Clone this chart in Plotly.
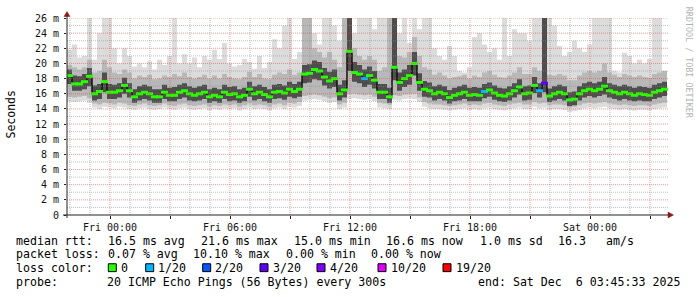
import plotly.graph_objects as go
import pandas as pd

# ---------------- data (15-minute steps) ----------------
start_time = "2025-12-04 21:51:00"
end_time = "2025-12-06 03:57:00"
step_minutes = 15

median = [18.4, 17.3, 17.3, 17.6, 18.3, 16.0, 16.3, 17.6, 16.2, 16.2,
          16.4, 17.1, 16.4, 15.6, 16.0, 16.2, 16.0, 15.6, 15.6, 16.2,
          15.8, 15.8, 16.2, 16.4, 16.0, 15.8, 16.0, 16.2, 15.6, 15.8,
          15.6, 16.2, 15.9, 16.0, 15.6, 15.8, 16.6, 16.0, 16.2, 15.9,
          15.6, 16.2, 16.3, 16.1, 16.6, 16.3, 16.6, 18.6, 18.7, 19.2,
          19.0, 18.2, 17.7, 18.0, 16.0, 16.5, 21.6, 18.8, 18.6, 18.0,
          18.4, 17.8, 16.2, 16.2, 15.6, 19.5, 17.5, 18.0, 18.4, 20.0,
          17.5, 16.6, 16.4, 16.0, 16.2, 16.0, 15.5, 15.8, 16.0, 16.2,
          15.8, 15.9, 15.8, 16.3, 16.5, 16.1, 15.8, 15.7, 16.0, 16.4,
          16.9, 16.0, 16.1, 17.1, 16.4, 17.4, 15.7, 16.0, 16.2, 16.0,
          15.2, 15.3, 16.0, 16.4, 16.6, 16.4, 16.6, 17.0, 16.4, 16.2,
          16.0, 16.2, 16.0, 15.8, 16.0, 15.9, 15.8, 16.2, 16.4, 16.6]

loss = [0, 0, 0, 0, 0, 0, 0, 0, 0, 0,
        0, 0, 0, 0, 0, 0, 0, 0, 0, 0,
        0, 0, 0, 0, 0, 0, 0, 0, 0, 0,
        0, 0, 0, 0, 0, 0, 0, 0, 0, 0,
        0, 0, 0, 0, 0, 0, 0, 0, 0, 0,
        0, 0, 0, 0, 0, 0, 0, 0, 0, 1,
        0, 0, 0, 0, 0, 0, 0, 0, 0, 0,
        0, 0, 0, 0, 0, 0, 0, 0, 0, 0,
        0, 0, 0, 1, 0, 0, 0, 0, 0, 0,
        0, 0, 0, 0, 1, 3, 0, 0, 0, 0,
        0, 0, 0, 0, 0, 0, 0, 0, 0, 0,
        0, 0, 0, 0, 0, 0, 0, 0, 0, 0]

smoke_lo = [15.0, 14.9, 15.0, 15.1, 14.8, 14.2, 14.0, 14.3, 14.2, 14.1,
            14.3, 14.2, 14.0, 13.9, 14.1, 14.2, 14.0, 13.9, 14.0, 14.2,
            14.0, 13.9, 14.1, 14.2, 14.0, 13.9, 14.0, 14.1, 13.8, 14.0,
            13.9, 14.1, 14.0, 14.1, 13.8, 14.0, 14.2, 14.0, 14.1, 14.0,
            13.8, 14.1, 14.2, 14.0, 14.3, 14.2, 14.4, 15.1, 15.2, 15.3,
            15.2, 15.0, 14.8, 14.9, 14.0, 14.2, 15.3, 15.4, 15.3, 15.2,
            15.3, 15.0, 14.2, 14.1, 14.0, 15.2, 15.1, 15.3, 15.4, 15.3,
            14.9, 14.3, 14.1, 14.0, 14.0, 13.9, 13.8, 13.9, 14.0, 14.1,
            13.9, 14.0, 13.9, 14.1, 14.2, 14.0, 13.9, 13.8, 14.0, 14.1,
            14.2, 14.0, 14.0, 14.3, 14.1, 14.2, 13.9, 14.0, 14.0, 13.9,
            13.6, 13.7, 13.9, 14.1, 14.2, 14.1, 14.2, 14.3, 14.1, 14.0,
            13.9, 14.0, 13.9, 13.8, 13.9, 13.9, 13.8, 14.0, 14.1, 14.2]

smoke_hi = [21.8, 22.5, 20.8, 21.0, 26.5, 20.5, 24.0, 26.5, 26.5, 22.0,
            20.0, 22.0, 21.0, 19.6, 20.0, 19.5, 20.3, 19.2, 20.5, 19.8,
            21.0, 26.5, 20.0, 21.2, 20.0, 20.8, 19.5, 21.0, 20.5, 21.8,
            20.6, 22.7, 20.0, 19.6, 19.8, 20.6, 20.2, 19.3, 21.0, 19.4,
            20.2, 23.2, 22.0, 25.0, 26.5, 20.6, 21.5, 26.5, 26.5, 24.0,
            22.5, 26.5, 26.5, 25.0, 23.0, 26.5, 25.0, 24.0, 26.5, 26.5,
            26.5, 24.5, 26.5, 26.5, 26.5, 26.5, 24.0, 26.5, 22.7, 26.5,
            24.5, 26.5, 26.5, 22.0, 21.0, 20.5, 22.3, 21.0, 19.0, 18.8,
            19.5, 23.5, 24.0, 22.5, 21.5, 22.0, 20.5, 26.5, 21.0, 24.5,
            24.0, 24.0, 23.0, 26.5, 26.5, 26.5, 26.5, 25.0, 22.3, 21.0,
            21.5, 23.0, 22.0, 21.5, 22.5, 26.5, 26.5, 26.5, 26.5, 19.0,
            18.8, 21.4, 21.0, 20.0, 20.5, 20.0, 20.6, 26.5, 26.5, 18.8]

mid_lo = [15.6, 15.5, 15.6, 15.7, 15.4, 14.7, 14.6, 14.8, 14.7, 14.6,
          14.8, 14.7, 14.5, 14.4, 14.6, 14.7, 14.5, 14.4, 14.5, 14.7,
          14.5, 14.4, 14.6, 14.7, 14.5, 14.4, 14.5, 14.6, 14.3, 14.5,
          14.4, 14.6, 14.5, 14.6, 14.3, 14.5, 14.7, 14.5, 14.6, 14.5,
          14.3, 14.6, 14.7, 14.5, 14.8, 14.7, 14.9, 15.7, 15.8, 15.9,
          15.8, 15.6, 15.4, 15.5, 14.6, 14.8, 16.0, 16.0, 15.9, 15.8,
          15.9, 15.6, 14.8, 14.7, 14.6, 15.8, 15.7, 15.9, 16.0, 16.0,
          15.5, 14.9, 14.7, 14.6, 14.6, 14.5, 14.4, 14.5, 14.6, 14.7,
          14.5, 14.6, 14.5, 14.7, 14.8, 14.6, 14.5, 14.4, 14.6, 14.7,
          14.8, 14.6, 14.6, 14.9, 14.7, 14.8, 14.5, 14.6, 14.6, 14.5,
          14.2, 14.3, 14.5, 14.7, 14.8, 14.7, 14.8, 14.9, 14.7, 14.6,
          14.5, 14.6, 14.5, 14.4, 14.5, 14.5, 14.4, 14.6, 14.7, 14.8]

mid_hi = [19.8, 19.5, 19.2, 19.5, 20.5, 18.8, 19.0, 20.5, 19.5, 18.8,
          18.6, 19.2, 18.8, 18.0, 18.4, 18.2, 18.5, 17.9, 18.0, 18.4,
          18.2, 18.6, 18.3, 18.8, 18.2, 18.0, 18.2, 18.5, 18.0, 18.4,
          18.0, 18.6, 18.2, 18.0, 17.9, 18.2, 18.9, 18.2, 18.6, 18.0,
          17.9, 18.5, 18.8, 18.6, 19.2, 18.5, 18.8, 26.5, 26.5, 22.0,
          21.5, 20.8, 21.5, 20.5, 19.5, 26.5, 26.5, 22.0, 21.0, 20.5,
          21.0, 20.5, 19.0, 19.5, 26.5, 26.5, 21.0, 20.8, 21.5, 23.5,
          21.0, 19.5, 19.2, 18.5, 18.8, 18.4, 18.0, 18.2, 18.3, 18.5,
          18.0, 18.4, 18.2, 18.8, 19.0, 18.5, 18.2, 18.1, 18.4, 18.8,
          19.5, 18.6, 18.6, 19.5, 19.0, 26.5, 18.5, 18.4, 18.6, 18.4,
          17.8, 17.8, 18.4, 18.8, 19.0, 18.8, 19.0, 20.0, 18.8, 18.5,
          18.2, 18.6, 18.4, 18.2, 18.4, 18.2, 18.1, 18.6, 18.8, 19.0]

dark_lo = [17.3, 16.4, 16.4, 16.6, 17.0, 15.1, 15.3, 16.2, 15.3, 15.3,
           15.5, 16.0, 15.5, 14.8, 15.1, 15.3, 15.1, 14.8, 14.8, 15.3,
           15.0, 15.0, 15.3, 15.5, 15.1, 15.0, 15.1, 15.3, 14.8, 15.0,
           14.8, 15.3, 15.0, 15.1, 14.8, 15.0, 15.6, 15.1, 15.3, 15.0,
           14.8, 15.3, 15.4, 15.2, 15.6, 15.4, 15.6, 17.4, 17.5, 17.9,
           17.8, 17.1, 16.7, 16.9, 15.1, 15.5, 19.0, 17.6, 17.4, 16.9,
           17.2, 16.7, 15.3, 15.3, 14.8, 17.8, 16.4, 16.9, 17.2, 18.4,
           16.4, 15.6, 15.5, 15.1, 15.3, 15.1, 14.7, 15.0, 15.1, 15.3,
           15.0, 15.0, 15.0, 15.4, 15.6, 15.2, 15.0, 14.9, 15.1, 15.5,
           15.9, 15.1, 15.2, 16.1, 15.5, 16.2, 14.9, 15.1, 15.3, 15.1,
           14.4, 14.5, 15.1, 15.5, 15.7, 15.5, 15.7, 15.9, 15.5, 15.3,
           15.1, 15.3, 15.1, 15.0, 15.1, 15.0, 15.0, 15.3, 15.5, 15.7]

dark_hi = [19.2, 18.4, 18.3, 18.6, 19.4, 17.1, 17.3, 18.8, 17.3, 17.2,
           17.4, 18.1, 17.4, 16.6, 17.0, 17.2, 17.0, 16.6, 16.6, 17.2,
           16.8, 16.9, 17.2, 17.4, 17.0, 16.8, 17.0, 17.2, 16.6, 16.8,
           16.6, 17.2, 16.9, 17.0, 16.6, 16.8, 17.6, 17.0, 17.2, 16.9,
           16.6, 17.2, 17.3, 17.1, 17.6, 17.3, 17.6, 19.8, 19.9, 20.4,
           20.2, 19.4, 18.9, 19.2, 17.2, 17.8, 26.5, 20.2, 19.8, 19.2,
           19.6, 19.0, 17.3, 17.3, 16.8, 26.5, 18.8, 19.2, 19.8, 21.5,
           18.7, 17.7, 17.5, 17.0, 17.2, 17.0, 16.5, 16.8, 17.0, 17.2,
           16.8, 16.9, 16.8, 17.3, 17.5, 17.1, 16.8, 16.7, 17.0, 17.4,
           17.9, 17.0, 17.1, 18.2, 17.4, 26.5, 16.7, 17.0, 17.2, 17.0,
           16.2, 16.3, 17.0, 17.4, 17.6, 17.4, 17.6, 18.2, 17.4, 17.2,
           17.0, 17.2, 17.0, 16.8, 17.0, 16.9, 16.8, 17.2, 17.4, 17.6]

y_tick_values = [0, 2, 4, 6, 8, 10, 12, 14, 16, 18, 20, 22, 24, 26]
y_tick_labels = ["0", "2 m", "4 m", "6 m", "8 m", "10 m", "12 m", "14 m",
                 "16 m", "18 m", "20 m", "22 m", "24 m", "26 m"]
x_major_ticks = ["2025-12-05 00:00", "2025-12-05 03:00", "2025-12-05 06:00",
                 "2025-12-05 09:00", "2025-12-05 12:00", "2025-12-05 15:00",
                 "2025-12-05 18:00", "2025-12-05 21:00", "2025-12-06 00:00",
                 "2025-12-06 03:00"]
x_major_labels = ["Fri 00:00", "", "Fri 06:00", "", "Fri 12:00", "",
                  "Fri 18:00", "", "Sat 00:00", ""]

loss_levels = [0, 1, 2, 3, 4, 10, 19]
loss_labels = ["0", "1/20", "2/20", "3/20", "4/20", "10/20", "19/20"]
loss_colors = ["#26ff00", "#00b8ff", "#0059ff", "#5e00ff", "#7e00ff", "#dd00ff", "#ff0000"]

stats_line1 = ["median rtt:", "16.5 ms avg", "21.6 ms max", "15.0 ms min",
               "16.6 ms now", "1.0 ms sd", "16.3", "am/s"]
stats_line2 = ["packet loss:", "0.07 % avg", "10.10 % max", "0.00 % min", "0.00 % now"]
probe_text = "20 ICMP Echo Pings (56 Bytes) every 300s"
end_text = "end: Sat Dec \u00a06 03:45:33 2025"

# ---------------- layout geometry (pixels) ----------------
W, H = 697, 297
PL, PR, PT, PB = 67, 669, 15, 215
MONO = "DejaVu Sans Mono"


def px(xp):
    return (xp - PL) / (PR - PL)


def py(yp):
    return (PB - yp) / (PB - PT)


n = len(median)
t0 = pd.Timestamp(start_time)
dt = pd.Timedelta(minutes=step_minutes)
t_edges = [t0 + dt * i for i in range(n + 1)]
t_mid = [t0 + dt * i + dt / 2 for i in range(n)]


def ext(a):
    return list(a) + [a[-1]]


fig = go.Figure()


def band(lo, hi, color):
    fig.add_trace(go.Scatter(x=t_edges, y=ext(lo), mode="lines", line=dict(width=0, shape="hv"),
                             hoverinfo="skip", showlegend=False))
    fig.add_trace(go.Scatter(x=t_edges, y=ext(hi), mode="lines", line=dict(width=0, shape="hv"),
                             fill="tonexty", fillcolor=color, hoverinfo="skip", showlegend=False))


band(smoke_lo, smoke_hi, "#dcdcdc")
band(mid_lo, mid_hi, "#b8b8b8")
band(dark_lo, dark_hi, "#4e4e4e")

fig.add_trace(go.Scatter(x=t_edges, y=ext(median), mode="lines",
                         line=dict(width=1.5, color="#111111", shape="hv"),
                         hoverinfo="skip", showlegend=False))
cmap = dict(zip(loss_levels, loss_colors))
fig.add_trace(go.Scatter(x=t_mid, y=median, mode="markers",
                         marker=dict(symbol="line-ew", size=5,
                                     line=dict(width=3, color=[cmap[v] for v in loss])),
                         hoverinfo="skip", showlegend=False))

shapes = []
red = "rgba(230,60,60,0.5)"
gray = "rgba(140,140,140,0.55)"
dash = "1px,1px"
tx0 = pd.Timestamp(start_time)
tx1 = pd.Timestamp(end_time)
# vertical grid
hours = pd.date_range(tx0.ceil("h"), tx1, freq="h")
for h in hours:
    col = red if h.hour % 3 == 0 else gray
    shapes.append(dict(type="line", xref="x", yref="paper", x0=h, x1=h, y0=0, y1=1,
                       line=dict(color=col, width=1, dash=dash), layer="above"))
# horizontal grid
for v in range(1, 27):
    col = red if v % 2 == 0 else gray
    shapes.append(dict(type="line", xref="paper", yref="y", x0=0, x1=1, y0=v, y1=v,
                       line=dict(color=col, width=1, dash=dash), layer="above"))
# axes
shapes.append(dict(type="line", xref="paper", yref="paper", x0=px(67), x1=px(67), y0=py(218), y1=py(12),
                   line=dict(color="#222222", width=1), layer="above"))
shapes.append(dict(type="line", xref="paper", yref="paper", x0=px(63), x1=px(669), y0=py(215), y1=py(215),
                   line=dict(color="#222222", width=1), layer="above"))
arrow = "#8b1a1a"
shapes.append(dict(type="path", xref="paper", yref="paper",
                   path=f"M {px(64)} {py(13.5)} L {px(70)} {py(13.5)} L {px(67)} {py(8.5)} Z",
                   fillcolor=arrow, line=dict(color=arrow, width=0.5), layer="above"))
shapes.append(dict(type="path", xref="paper", yref="paper",
                   path=f"M {px(668)} {py(212)} L {px(668)} {py(218)} L {px(673.5)} {py(215)} Z",
                   fillcolor=arrow, line=dict(color=arrow, width=0.5), layer="above"))

annotations = []


def txt(xp, yp, s, size=11.6, color="#000000", angle=0, xanchor="left"):
    annotations.append(dict(xref="paper", yref="paper", x=px(xp), y=py(yp), text=s,
                            showarrow=False, xanchor=xanchor, yanchor="middle",
                            textangle=angle, borderpad=0, borderwidth=0,
                            font=dict(family=MONO, size=size, color=color)))


line1_x = [16, 107.5, 200.5, 293.5, 386, 479.5, 557.5, 606]
for xp, s in zip(line1_x, stats_line1):
    txt(xp, 241, s)
line2_x = [16, 107.5, 192.5, 286, 371]
for xp, s in zip(line2_x, stats_line2):
    txt(xp, 255, s)
txt(16, 269, "loss color:")
box_x = [108.3, 145.7, 202.7, 260, 317, 378, 443]
for bx, lab, col in zip(box_x, loss_labels, loss_colors):
    shapes.append(dict(type="rect", xref="paper", yref="paper", x0=px(bx), x1=px(bx + 8),
                       y0=py(272.5), y1=py(264.5), fillcolor=col, line=dict(color="#000000", width=1)))
    txt(bx + 12.5, 269, lab)
txt(16, 283, "probe:")
txt(107, 283, probe_text)
txt(478, 283, end_text)

txt(11, 113, "Seconds", size=11.5, angle=-90, xanchor="center")
txt(688.5, 60, "RRDTOOL / TOBI OETIKER", size=8.4, color="#b4b4b4", angle=90, xanchor="center")

fig.update_layout(
    width=W, height=H,
    margin=dict(l=PL, r=W - PR, t=PT, b=H - PB, pad=0),
    paper_bgcolor="#ffffff", plot_bgcolor="#ffffff",
    showlegend=False,
    shapes=shapes, annotations=annotations,
    xaxis=dict(type="date", range=[tx0, tx1], showgrid=False, zeroline=False, showline=False,
               tickmode="array", tickvals=x_major_ticks, ticktext=x_major_labels,
               ticks="outside", ticklen=3, tickcolor="#222222",
               tickfont=dict(family=MONO, size=10, color="#111111")),
    yaxis=dict(range=[0, 26], showgrid=False, zeroline=False, showline=False,
               tickmode="array", tickvals=y_tick_values, ticktext=y_tick_labels,
               ticks="outside", ticklen=2, tickcolor="#222222", ticklabelstandoff=3,
               tickfont=dict(family=MONO, size=10, color="#111111")),
)

fig.write_html("out.html")
